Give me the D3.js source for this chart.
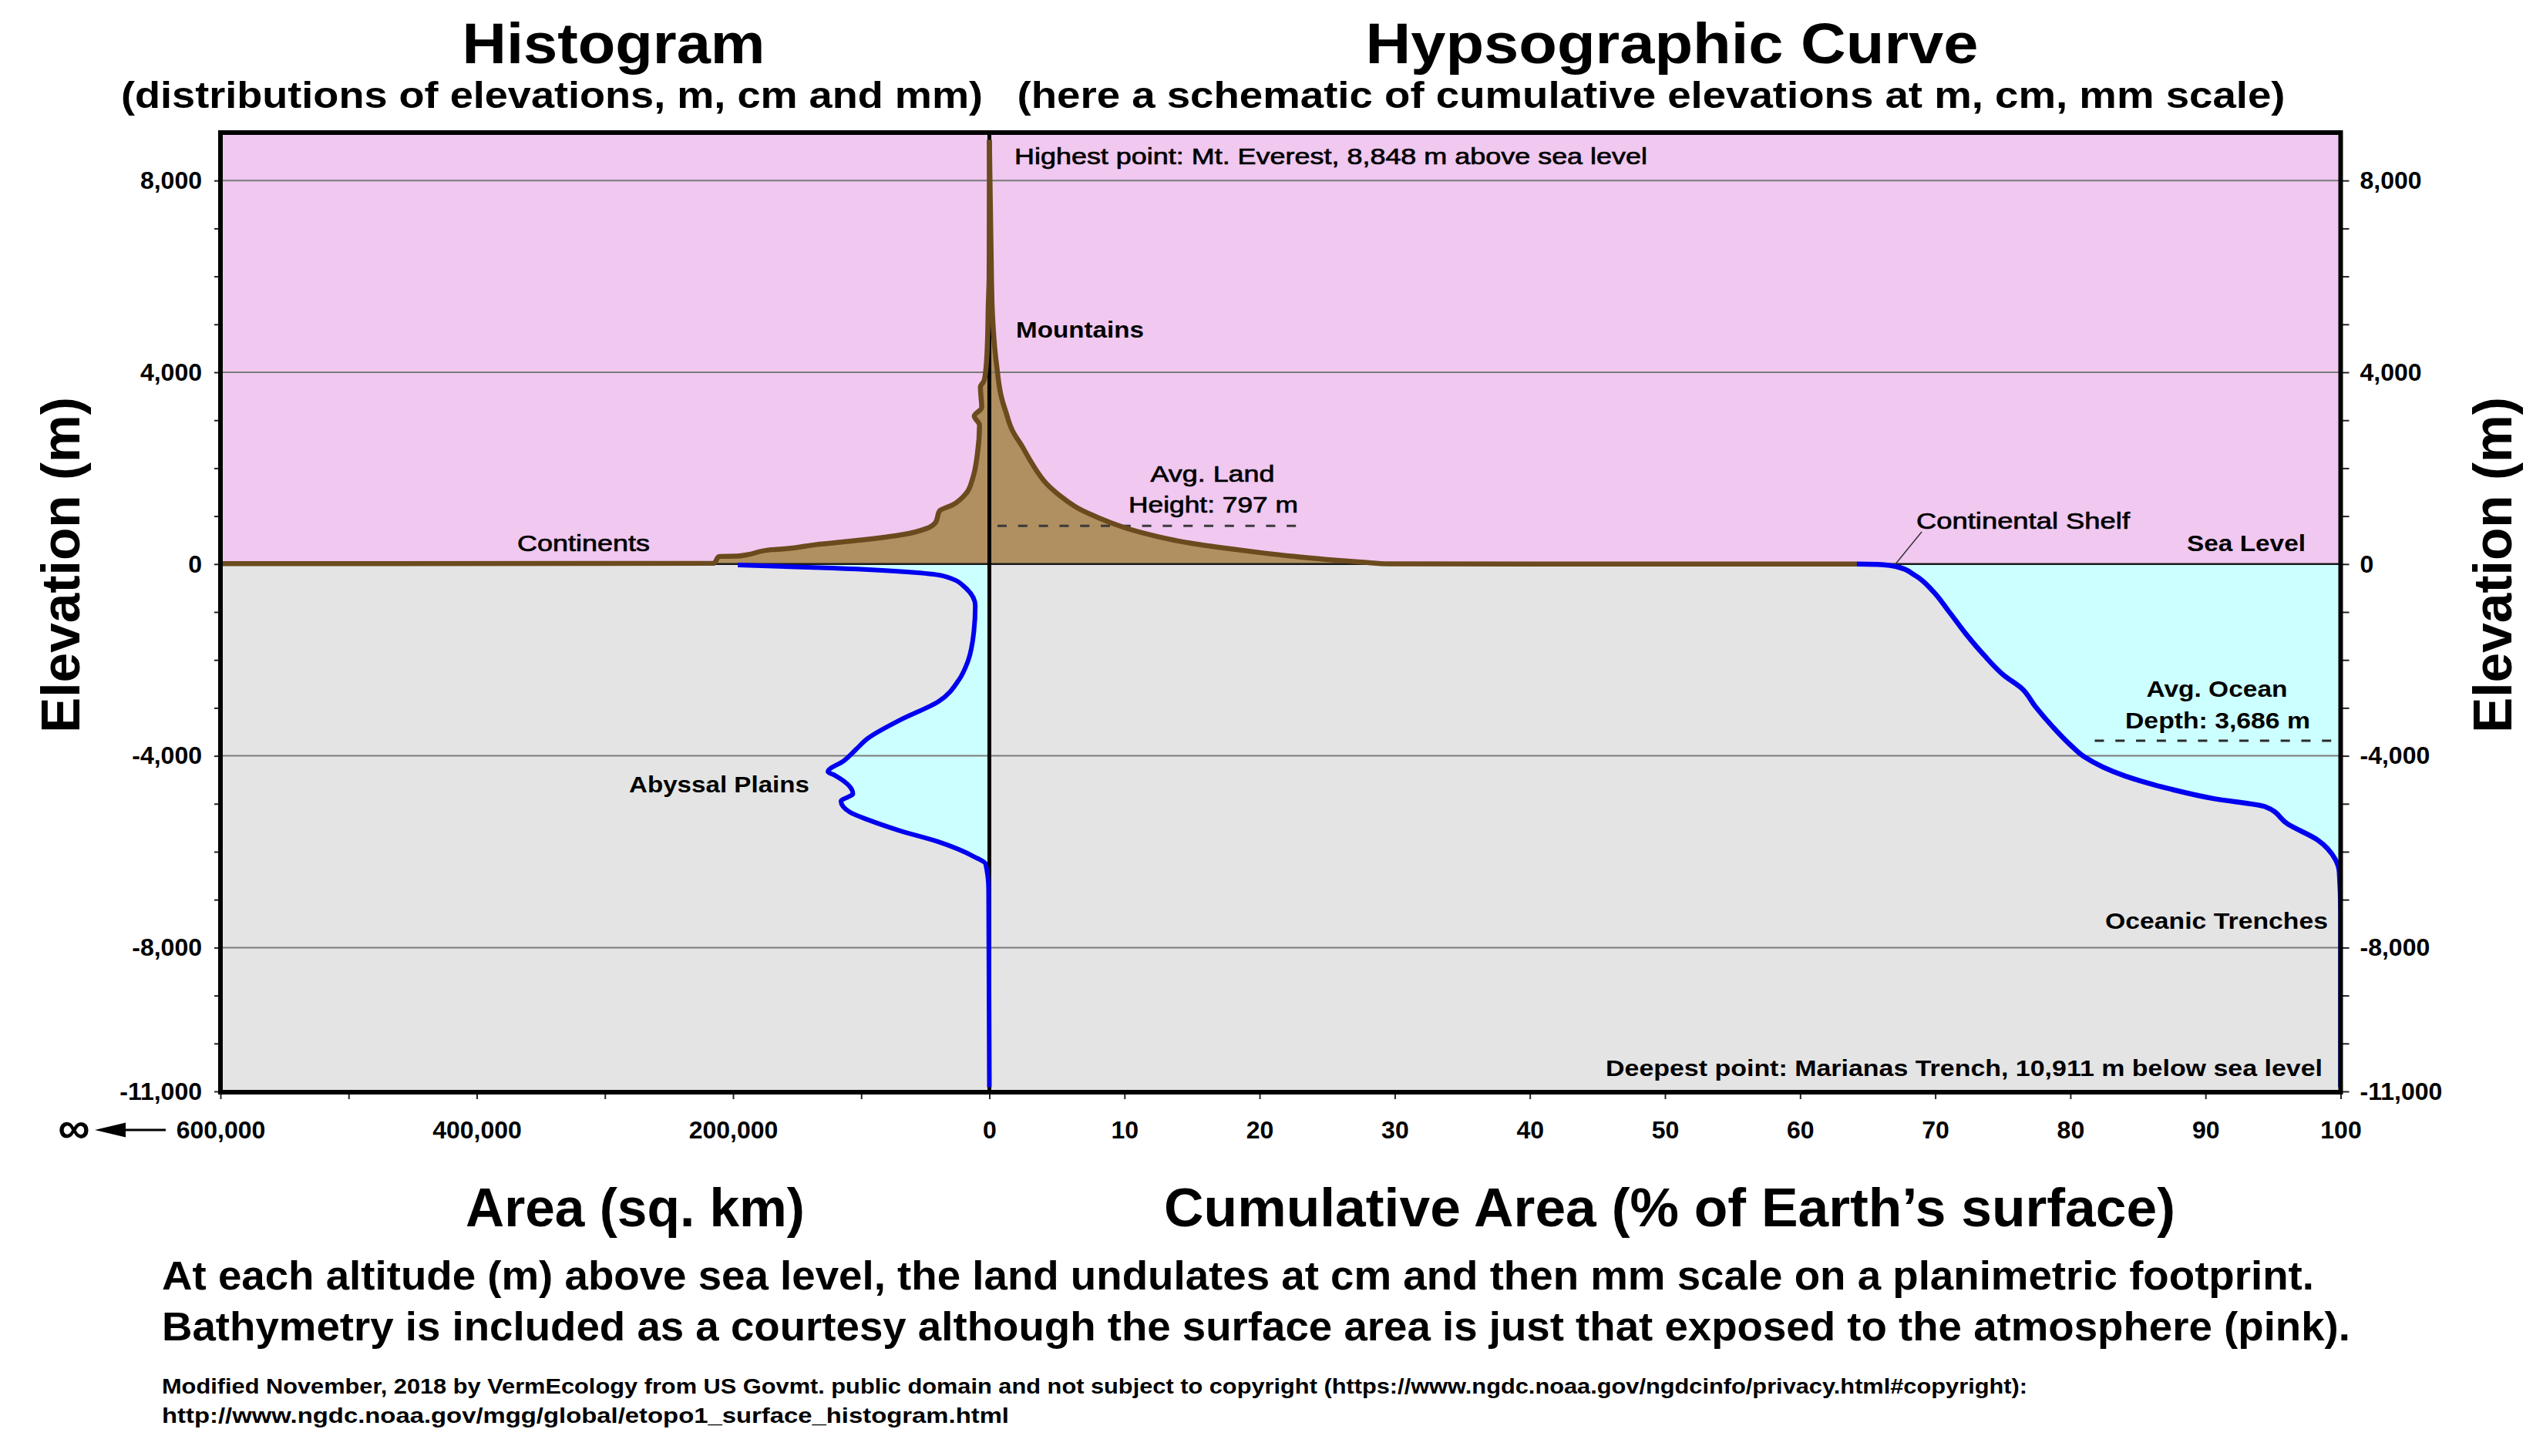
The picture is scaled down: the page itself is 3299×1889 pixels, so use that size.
<!DOCTYPE html>
<html>
<head>
<meta charset="utf-8">
<script src="https://cdn.jsdelivr.net/npm/d3@7"></script>
<style>
body { margin: 0; background: #fff; }
text { font-family: "Liberation Sans", Arial, sans-serif; }
</style>
</head>
<body>
<svg id="chart" width="3299" height="1889"></svg>
<script>
// ---- data ----
var elevLabels = [8000, 4000, 0, -4000, -8000, -11000];
var gridElev = [8000, 4000, -4000, -8000];
var histTicks = [600000, 500000, 400000, 300000, 200000, 100000, 0];
var histLabels = [600000, 400000, 200000, 0];
var cumTicks = [10, 20, 30, 40, 50, 60, 70, 80, 90, 100];

// histogram of land elevations (m) vs area (sq. km)
var landHistElev = [8848, 7000, 6000, 5357, 4800, 4130, 3820, 3698, 3265, 3087, 2897, 2283, 1790, 1479, 1237, 1112, 868, 743, 620, 498, 405, 312, 300, 190, 165, 160, 15, 5];
var landHistArea = [0, 80, 200, 900, 1300, 2500, 4200, 7000, 6000, 11800, 7700, 9400, 13000, 18000, 28500, 38800, 42000, 49000, 66500, 101000, 135500, 163000, 170000, 190000, 197000, 211000, 215000, 700000];

// histogram of ocean depths (m) vs area (sq. km)
var oceanHistElev = [-20, -85, -177, -254, -485, -868, -1409, -2024, -2408, -2870, -3254, -3640, -3870, -4100, -4331, -4409, -4791, -4947, -5177, -5331, -5563, -5793, -6101, -6254, -6793, -10911];
var oceanHistArea = [196300, 122600, 58200, 35200, 19000, 11000, 12100, 16700, 23600, 39800, 69700, 95000, 104200, 113400, 126000, 120400, 106500, 115800, 108800, 95000, 69700, 39800, 12100, 2900, 600, 0];

// hypsographic curve, land part (% of surface vs m)
var landCumPct = [0, 0.1, 0.2, 0.6, 1.3, 2.5, 4.0, 5.2, 6.4, 8.0, 10.0, 12.5, 15.0, 17.5, 20.0, 22.5, 25.0, 27.5, 29.5, 40, 50, 64.2];
var landCumElev = [8848, 7000, 5400, 4000, 3100, 2420, 1750, 1430, 1190, 975, 760, 570, 430, 330, 240, 160, 95, 40, 5, 0, 0, 0];

// hypsographic curve, ocean part
var oceanCumPct = [64.2, 66.0, 67.2, 68.5, 69.8, 71.0, 72.3, 73.6, 75.1, 76.4, 77.4, 78.7, 80.0, 81.0, 84.1, 87.4, 90.6, 94.4, 96.1, 98.3, 99.6, 99.9, 100, 100];
var oceanCumElev = [0, -10, -60, -236, -557, -986, -1468, -1897, -2326, -2593, -2969, -3397, -3773, -4015, -4426, -4693, -4892, -5060, -5426, -5756, -6157, -6426, -7255, -10911];

var avgLand = 797, avgOcean = -3686;

// ---- layout ----
var pL = 286, pR = 3036.5, pT = 172, pB = 1416, zeroX = 1283.5;
var brown = "#6b4a1e", tan = "#b08f60", pink = "#f0c8f0", grey = "#e4e4e4",
    cyan = "#ccffff", blue = "#0000f0";

var y = d3.scaleLinear().domain([-11000, 9000]).range([pB, pT]);
var xHist = d3.scaleLinear().domain([600000, 0]).range([pL, zeroX]);
var xCum = d3.scaleLinear().domain([0, 100]).range([zeroX, pR]);

var svg = d3.select("#chart");
svg.append("rect").attr("width", 3299).attr("height", 1889).attr("fill", "#fff");

var fmt = function(d){ return d3.format(",")(d).replace("\u2212", "-"); };

svg.append("clipPath").attr("id", "plotclip")
    .append("rect").attr("x", pL).attr("y", pT)
    .attr("width", pR - pL).attr("height", pB - pT);

var plot = svg.append("g").attr("clip-path", "url(#plotclip)");

// backgrounds
plot.append("rect").attr("x", pL).attr("y", y(9000))
    .attr("width", pR - pL).attr("height", y(0) - y(9000)).attr("fill", pink);
plot.append("rect").attr("x", pL).attr("y", y(0))
    .attr("width", pR - pL).attr("height", y(-11000) - y(0)).attr("fill", grey);

var landHist = d3.zip(landHistArea, landHistElev);
var oceanHist = d3.zip(oceanHistArea, oceanHistElev);
var landCum = d3.zip(landCumPct, landCumElev);
var oceanCum = d3.zip(oceanCumPct, oceanCumElev);

// histograms: x from area, smoothed along elevation
var histLine = d3.line().x(function(d){ return xHist(d[0]); }).y(function(d){ return y(d[1]); })
    .curve(d3.curveMonotoneY);
var histArea = d3.area().x0(xHist(0)).x1(function(d){ return xHist(d[0]); })
    .y(function(d){ return y(d[1]); }).curve(d3.curveMonotoneY);
var landCumLine = d3.line().x(function(d){ return xCum(d[0]); }).y(function(d){ return y(d[1]); })
    .curve(d3.curveMonotoneX);
var landCumArea = d3.area().x(function(d){ return xCum(d[0]); })
    .y0(y(0)).y1(function(d){ return y(d[1]); }).curve(d3.curveMonotoneX);
var oceanCumLine = d3.line().x(function(d){ return xCum(d[0]); }).y(function(d){ return y(d[1]); })
    .curve(d3.curveMonotoneY);
var oceanCumArea = d3.area().x0(function(d){ return xCum(d[0]); }).x1(xCum(100))
    .y(function(d){ return y(d[1]); }).curve(d3.curveMonotoneY);

// fills
plot.append("path").attr("fill", cyan)
    .attr("d", histArea([[oceanHistArea[0], 0]].concat(oceanHist)));
plot.append("path").attr("fill", cyan).attr("d", oceanCumArea(oceanCum));
plot.append("path").attr("fill", tan)
    .attr("d", histArea(landHist.concat([[700000, 0]])));
plot.append("path").attr("fill", tan).attr("d", landCumArea(landCum));

// grid
plot.selectAll(".grid").data(gridElev).enter().append("line")
    .attr("x1", pL).attr("x2", pR)
    .attr("y1", function(d){ return y(d); }).attr("y2", function(d){ return y(d); })
    .attr("stroke", "#7a7a7a").attr("stroke-width", 2);
plot.append("line").attr("x1", pL).attr("x2", pR)
    .attr("y1", y(0)).attr("y2", y(0))
    .attr("stroke", "#1a1a1a").attr("stroke-width", 2.5);

// zero line between the two panels
plot.append("line").attr("x1", zeroX).attr("x2", zeroX)
    .attr("y1", pT).attr("y2", pB)
    .attr("stroke", "#000").attr("stroke-width", 5);

// average lines
plot.append("line").attr("x1", xCum(0.6)).attr("x2", xCum(23.1))
    .attr("y1", y(avgLand)).attr("y2", y(avgLand))
    .attr("stroke", "#3a3a3a").attr("stroke-width", 3).attr("stroke-dasharray", "12,14.8");
plot.append("line").attr("x1", xCum(81.8)).attr("x2", xCum(99.6))
    .attr("y1", y(avgOcean)).attr("y2", y(avgOcean))
    .attr("stroke", "#2a2a2a").attr("stroke-width", 3).attr("stroke-dasharray", "12,14.8");

// curves
function curve(d, gen, color, w){
    plot.append("path").attr("d", gen(d))
        .attr("fill", "none").attr("stroke", color).attr("stroke-width", w)
        .attr("stroke-linejoin", "round").attr("stroke-linecap", "butt");
}
curve(landHist, histLine, brown, 6.5);
curve(landCum, landCumLine, brown, 6.5);
curve(oceanHist, histLine, blue, 6);
curve(oceanCum, oceanCumLine, blue, 6.5);

// axes
function styleAxis(g){
    g.select(".domain").remove();
    g.selectAll(".tick line").attr("stroke", "#222").attr("stroke-width", 2);
    g.selectAll(".tick text").attr("font-size", 32).attr("font-weight", "bold")
        .attr("fill", "#000").attr("font-family", "'Liberation Sans', Arial, sans-serif");
}
var elevAll = d3.range(-11000, 9000, 1000);
var elevFmt = function(d){ return elevLabels.indexOf(d) >= 0 ? fmt(d) : ""; };
svg.append("g").attr("transform", "translate(" + pL + ",0)")
    .call(d3.axisLeft(y).tickValues(elevAll).tickSize(8).tickPadding(16).tickFormat(elevFmt))
    .call(styleAxis);
svg.append("g").attr("transform", "translate(" + pR + ",0)")
    .call(d3.axisRight(y).tickValues(elevAll).tickSize(11).tickPadding(14).tickFormat(elevFmt))
    .call(styleAxis);
svg.append("g").attr("transform", "translate(0," + pB + ")")
    .call(d3.axisBottom(xHist).tickValues(histTicks).tickSize(10).tickPadding(28)
        .tickFormat(function(d){ return histLabels.indexOf(d) >= 0 ? fmt(d) : ""; }))
    .call(styleAxis);
svg.append("g").attr("transform", "translate(0," + pB + ")")
    .call(d3.axisBottom(xCum).tickValues(cumTicks).tickSize(10).tickPadding(28))
    .call(styleAxis);

// frame
svg.append("rect").attr("x", pL).attr("y", pT)
    .attr("width", pR - pL).attr("height", pB - pT + 1)
    .attr("fill", "none").attr("stroke", "#000").attr("stroke-width", 6);

// continental shelf leader
svg.append("line").attr("x1", 2493).attr("y1", 690).attr("x2", xCum(67.0)).attr("y2", y(-20))
    .attr("stroke", "#333").attr("stroke-width", 1.5);

// infinity arrow
svg.append("line").attr("x1", 150).attr("x2", 215).attr("y1", 1466).attr("y2", 1466)
    .attr("stroke", "#000").attr("stroke-width", 3);
svg.append("path").attr("d", "M123,1466L163,1456.5L163,1475.5Z").attr("fill", "#000");
svg.append("text").attr("x", 96).attr("y", 1483).attr("text-anchor", "middle")
    .attr("font-size", 58).attr("font-weight", "bold").text("\u221e");

// texts: [text, x, baseline, size, weight, anchor, length]
var labels = [
    ["Histogram", 796, 82, 74, "bold", "middle", 393],
    ["(distributions of elevations, m, cm and mm)", 716, 140, 48, "bold", "middle", 1118],
    ["Hypsographic Curve", 2169, 82, 74, "bold", "middle", 795],
    ["(here a schematic of cumulative elevations at m, cm, mm scale)", 2142, 140, 48, "bold", "middle", 1645],
    ["Area (sq. km)", 824, 1591, 70, "bold", "middle", 440],
    ["Cumulative Area (% of Earth\u2019s surface)", 2166, 1591, 70, "bold", "middle", 1312],
    ["At each altitude (m) above sea level, the land undulates at cm and then mm scale on a planimetric footprint.", 210, 1673, 51, "bold", "start", 2792],
    ["Bathymetry is included as a courtesy although the surface area is just that exposed to the atmosphere (pink).", 210, 1739, 51, "bold", "start", 2839],
    ["Modified November, 2018 by VermEcology from US Govmt. public domain and not subject to copyright (https://www.ngdc.noaa.gov/ngdcinfo/privacy.html#copyright):", 210, 1808, 28, "bold", "start", 2420],
    ["http://www.ngdc.noaa.gov/mgg/global/etopo1_surface_histogram.html", 210, 1846, 28, "bold", "start", 1099],
    ["Highest point: Mt. Everest, 8,848 m above sea level", 1316, 213, 30, "normal", "start", 821],
    ["Mountains", 1318, 438, 30, "bold", "start", 166],
    ["Avg. Land", 1573, 625, 30, "normal", "middle", 161],
    ["Height: 797 m", 1574, 665, 30, "normal", "middle", 220],
    ["Continents", 671, 715, 30, "normal", "start", 172],
    ["Continental Shelf", 2486, 686, 30, "normal", "start", 277],
    ["Sea Level", 2837, 715, 30, "bold", "start", 154],
    ["Avg. Ocean", 2876, 904, 30, "bold", "middle", 183],
    ["Depth: 3,686 m", 2877, 945, 30, "bold", "middle", 240],
    ["Abyssal Plains", 816, 1028, 30, "bold", "start", 234],
    ["Oceanic Trenches", 2731, 1205, 30, "bold", "start", 289],
    ["Deepest point: Marianas Trench, 10,911 m below sea level", 2083, 1396, 30, "bold", "start", 930]
];
labels.forEach(function(l){
    var t = svg.append("text").attr("x", l[1]).attr("y", l[2])
        .attr("font-size", l[3]).attr("font-weight", l[4]).attr("text-anchor", l[5])
        .attr("textLength", l[6]).attr("lengthAdjust", "spacingAndGlyphs")
        .attr("fill", "#000").text(l[0]);
    if (l[4] === "normal") t.attr("stroke", "#000").attr("stroke-width", 0.7);
});

// vertical axis titles
[[103, 733], [3258, 733]].forEach(function(p){
    svg.append("text").attr("transform", "translate(" + p[0] + "," + p[1] + ") rotate(-90)")
        .attr("text-anchor", "middle").attr("font-size", 70).attr("font-weight", "bold")
        .attr("textLength", 436).attr("lengthAdjust", "spacingAndGlyphs")
        .text("Elevation (m)");
});
</script>
</body>
</html>
